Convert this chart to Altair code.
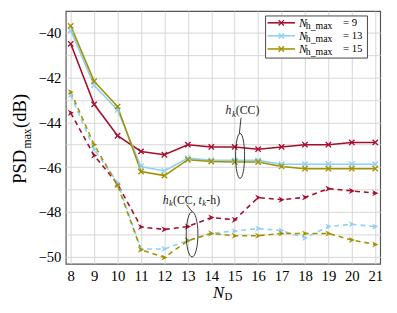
import altair as alt
import pandas as pd

# ---- data ----
ND = list(range(8, 22))
solid_9 = [-40.5, -43.2, -44.6, -45.3, -45.45, -45.0, -45.1, -45.1, -45.2, -45.1, -45.0, -45.0, -44.9, -44.9]
solid_13 = [-39.9, -42.35, -43.45, -45.97, -46.17, -45.6, -45.7, -45.7, -45.7, -45.87, -45.87, -45.87, -45.87, -45.87]
solid_15 = [-39.7, -42.17, -43.3, -46.2, -46.38, -45.67, -45.75, -45.77, -45.77, -45.97, -46.07, -46.07, -46.07, -46.07]
dash_9 = [-43.58, -45.48, -46.75, -48.67, -48.78, -48.65, -48.25, -48.35, -47.36, -47.45, -47.35, -46.96, -47.06, -47.16]
dash_13 = [-42.78, -45.2, -46.7, -49.65, -49.65, -49.27, -48.95, -48.85, -48.74, -48.83, -49.16, -48.65, -48.55, -48.65]
dash_15 = [-42.65, -45.0, -46.8, -49.68, -50.03, -49.28, -48.96, -49.06, -49.06, -48.96, -48.96, -48.96, -49.25, -49.45]
series_names = ["9", "13", "15"]
colors = ["#A50F2D", "#8ED1F2", "#A39200"]

rows = []
for name, s, d in zip(series_names, [solid_9, solid_13, solid_15], [dash_9, dash_13, dash_15]):
    for n, v in zip(ND, s):
        rows.append({"ND": n, "PSD": v, "series": name, "style": "solid"})
    for n, v in zip(ND, d):
        rows.append({"ND": n, "PSD": v, "series": name, "style": "dashed"})
df = pd.DataFrame(rows)

FONT = "Liberation Serif"
xs = alt.Scale(domain=[7.79, 21.21], nice=False, zero=False)
ys = alt.Scale(domain=[-50.31, -39.04], nice=False, zero=False)
cs = alt.Scale(domain=series_names, range=colors)

xaxis = alt.Axis(values=ND, title=None, grid=True, gridColor="#d6d6d6", gridWidth=1,
                 ticks=False, domain=False, labelFont=FONT, labelFontSize=15,
                 labelColor="black", labelPadding=5, labelOverlap=False, labelFlush=False)
yaxis = alt.Axis(values=list(range(-50, -38)), title=None, grid=True, gridColor="#d6d6d6",
                 gridWidth=1, ticks=False, domain=False, labelFont=FONT, labelFontSize=15,
                 labelColor="black", labelPadding=5, labelOverlap=False,
                 labelExpr="datum.value % 2 == 0 ? datum.label : ''")

X = alt.X("ND:Q", scale=xs, axis=xaxis)
Y = alt.Y("PSD:Q", scale=ys, axis=yaxis)
C = alt.Color("series:N", scale=cs, legend=None)

XPATH = "M-1,-1L1,1M-1,1L1,-1"
ARROW = "M-1,-1L1,0L-1,1L-0.35,0Z"

base = alt.Chart(df)
solid_line = base.transform_filter("datum.style == 'solid'").mark_line(strokeWidth=1.6).encode(x=X, y=Y, color=C, detail="series:N")
solid_pts = base.transform_filter("datum.style == 'solid'").mark_point(shape=XPATH, size=30, filled=False, strokeWidth=1.4, opacity=1).encode(x=X, y=Y, color=C)
dash_line = base.transform_filter("datum.style == 'dashed'").mark_line(strokeWidth=1.6, strokeDash=[5, 4]).encode(x=X, y=Y, color=C, detail="series:N")
dash_pts = base.transform_filter("datum.style == 'dashed'").mark_point(shape=ARROW, size=40, filled=True, opacity=1).encode(x=X, y=Y, color=C)

one = pd.DataFrame({"a": [0]})


def ptext(x, y, s, size, italic=False, angle=0, align="center", color="black"):
    return alt.Chart(one).mark_text(text=s, font=FONT, fontSize=size,
                                    fontStyle="italic" if italic else "normal",
                                    angle=angle, align=align, baseline="middle",
                                    color=color).encode(x=alt.value(x), y=alt.value(y))


def dtext(xv, yv, s, size, italic=False, align="left", color="#222222"):
    d = pd.DataFrame({"ND": [xv], "PSD": [yv]})
    return alt.Chart(d).mark_text(text=s, font=FONT, fontSize=size,
                                  fontStyle="italic" if italic else "normal",
                                  align=align, baseline="middle", color=color).encode(
        x=alt.X("ND:Q", scale=xs, axis=xaxis), y=alt.Y("PSD:Q", scale=ys, axis=yaxis))


layers = [solid_line, dash_line, solid_pts, dash_pts]

# ---- annotations (data coordinates) ----
ELL1 = "M0,-1A0.2,1 0 1,1 0,1A0.2,1 0 1,1 0,-1Z"
ELL2 = "M0,-1A0.26,1 0 1,1 0,1A0.26,1 0 1,1 0,-1Z"
ell = pd.DataFrame({"ND": [15.23, 13.18], "PSD": [-45.5, -49.0], "k": ["a", "b"]})
layers.append(alt.Chart(ell).transform_filter("datum.k == 'a'").mark_point(shape=ELL1, size=2116, filled=False, color="#222222", strokeWidth=0.9, opacity=1).encode(
    x=alt.X("ND:Q", scale=xs, axis=xaxis), y=alt.Y("PSD:Q", scale=ys, axis=yaxis)))
layers.append(alt.Chart(ell).transform_filter("datum.k == 'b'").mark_point(shape=ELL2, size=2116, filled=False, color="#222222", strokeWidth=0.9, opacity=1).encode(
    x=alt.X("ND:Q", scale=xs, axis=xaxis), y=alt.Y("PSD:Q", scale=ys, axis=yaxis)))

lead = pd.DataFrame({"ND": [15.27, 15.2, 12.95, 13.18], "PSD": [-43.8, -44.5, -47.68, -47.98], "g": ["a", "a", "b", "b"]})
layers.append(alt.Chart(lead).mark_line(color="#222222", strokeWidth=0.9).encode(
    x=alt.X("ND:Q", scale=xs, axis=xaxis), y=alt.Y("PSD:Q", scale=ys, axis=yaxis), detail="g:N"))

# label 1: h_k(CC)
layers += [
    dtext(14.61, -43.47, "h", 12, italic=True),
    dtext(14.88, -43.62, "k", 9, italic=True),
    dtext(15.05, -43.47, "(CC)", 12),
]
# label 2: h_k(CC, t_k-h)
layers += [
    dtext(11.93, -47.45, "h", 12, italic=True),
    dtext(12.20, -47.60, "k", 9, italic=True),
    dtext(12.37, -47.45, "(CC,", 12),
    dtext(13.46, -47.45, "t", 12, italic=True),
    dtext(13.61, -47.60, "k", 9, italic=True),
    dtext(13.79, -47.45, "-h)", 12),
]

# ---- legend (pixel positions inside plot) ----
leg_box = alt.Chart(one).mark_rect(fill="white", stroke="#444444", strokeWidth=1).encode(
    x=alt.value(204), x2=alt.value(308), y=alt.value(5), y2=alt.value(48))
layers.append(leg_box)
row_y = [12, 25.3, 38.7]
for name, col, yy in zip(series_names, colors, row_y):
    layers.append(alt.Chart(one).mark_rule(color=col, strokeWidth=1.6).encode(
        x=alt.value(206), x2=alt.value(234), y=alt.value(yy)))
    layers.append(alt.Chart(one).mark_point(shape=XPATH, size=30, filled=False, strokeWidth=1.4, color=col, opacity=1).encode(
        x=alt.value(220), y=alt.value(yy)))
    layers.append(ptext(238, yy, "N", 12, italic=True, align="left"))
    layers.append(ptext(245, yy + 3, "h_max", 10, align="left"))
    layers.append(ptext(283, yy, "= " + name, 11, align="left"))

# ---- axis titles ----
layers += [
    ptext(-47, 159, "PSD", 19, angle=270),
    ptext(-40, 130, "max", 12, angle=270),
    ptext(-47, 102, "(dB)", 19, angle=270),
    ptext(156, 288, "N", 17, italic=True),
    ptext(166, 292, "D", 11),
]

chart = alt.layer(*layers).properties(
    width=321, height=258,
    autosize=alt.AutoSizeParams(type="none"),
    padding={"left": 59, "top": 0, "right": 9, "bottom": 40},
).configure_view(stroke="#555555", strokeWidth=1.2)

chart.save("out.html", embed_options={"renderer": "svg", "actions": False})
